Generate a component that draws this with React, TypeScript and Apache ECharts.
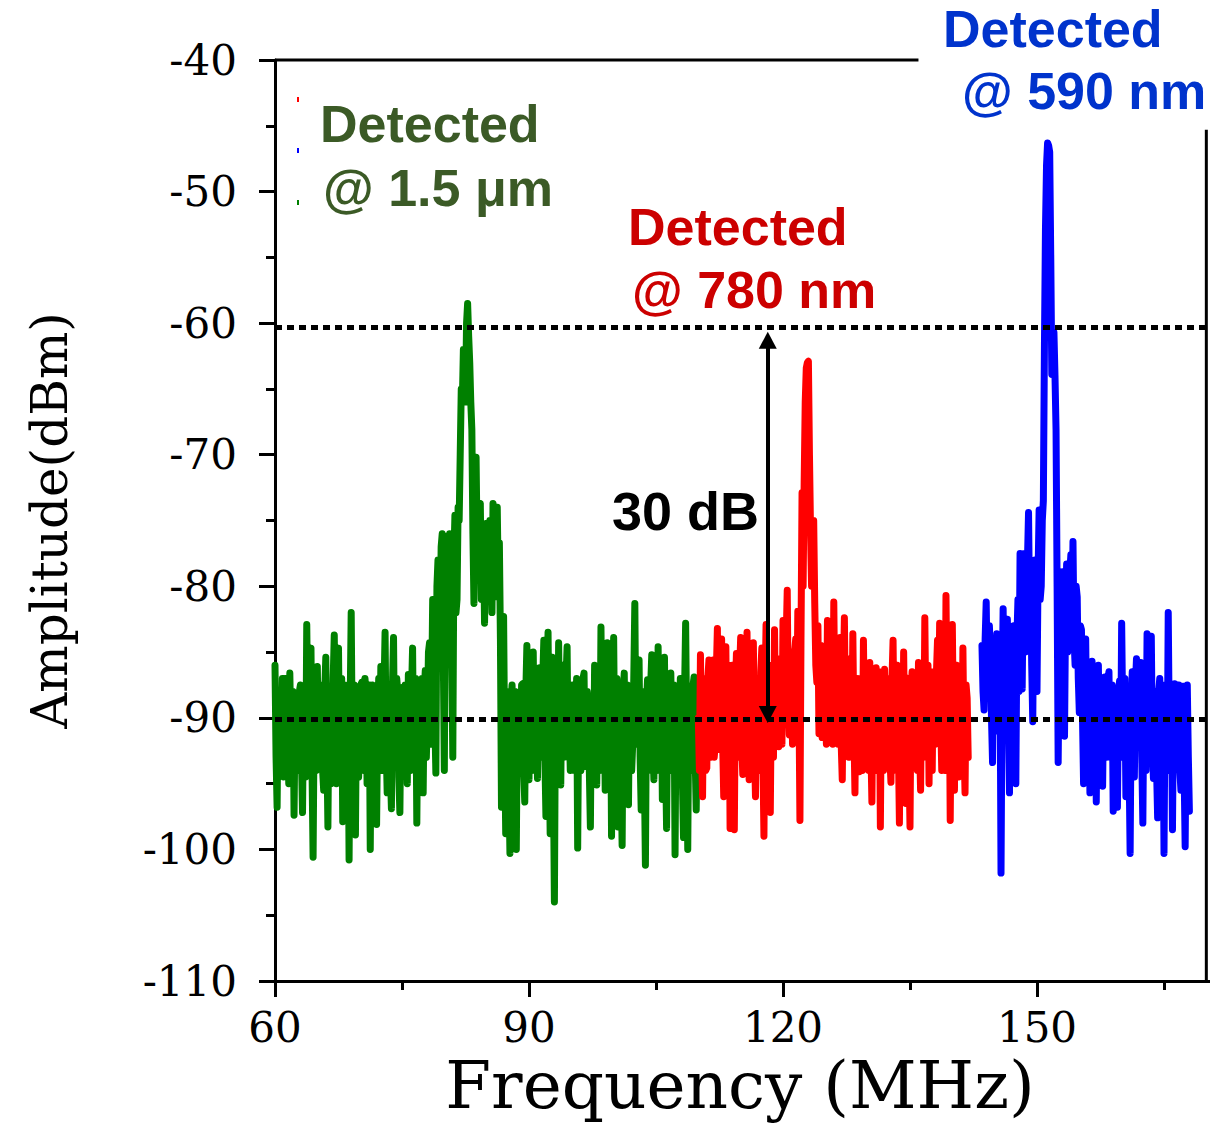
import React, { useEffect, useRef } from "react";
import * as echarts from "echarts";

// ---- data (dense spectrum, 0.125 MHz per sample) ----
const STEP_MHZ = 0.125;
const GREEN_START = 60;
const RED_START = 110;
const BLUE_START = 143.5;

const greenValues = [
  -86, -93, -96.8, -88.5, -88, -94, -92, -87, -94.5, -88, -87, -93.5, -90, -95, -86.6, -91, -93, -88, -97.4, -89.5,
  -89, -94, -92, -88, -87.5, -93, -97.2, -88.5, -89, -94.5, -82.9, -90, -93, -87, -84.7, -94, -100.6, -90, -88, -94,
  -86.1, -92.5, -93, -87.5, -88, -94, -95.5, -88, -85.4, -92, -98.3, -88.5, -89, -95, -92, -87, -83.7, -91, -95, -87.5,
  -84.7, -93, -91, -87, -97.9, -89, -87.5, -94, -93, -88, -100.8, -89, -82, -92, -94, -87.5, -98.9, -89, -88, -94.5,
  -92, -87.5, -87.3, -93.5, -94, -87, -88, -95, -91, -87.5, -100, -89, -87.5, -93, -95.5, -88, -98.1, -90, -87, -93,
  -86.1, -94, -93, -88, -83.5, -92, -95.7, -88, -89, -94, -96.9, -87.5, -83.9, -93, -92, -87, -88, -94.5, -97.2, -89,
  -87.7, -94, -93, -87.5, -89, -95, -86.7, -93, -94, -88, -84.7, -93.5, -92, -87, -98, -88.5, -87.5, -94, -91, -87,
  -95.7, -88, -86.4, -93, -90, -85, -84.3, -92, -88, -81, -82.9, -90, -94.2, -80, -78, -84, -83, -77, -76, -85,
  -94, -79, -76.2, -83, -82.8, -76, -77, -85, -93, -78, -74.6, -82, -81, -74, -75, -70, -65, -66, -62, -64,
  -66, -60, -58.5, -61, -63, -66, -68.1, -76, -81.3, -74, -70.2, -77, -79, -74, -73.7, -81, -80, -76, -82.8, -77,
  -75.2, -81, -80, -75, -77, -82, -73.7, -79, -80.8, -75, -74, -80, -76.7, -84, -96.8, -86, -82.3, -92, -98.8, -88,
  -88.4, -95, -100.3, -89, -87.5, -95, -94, -88, -100, -90, -89, -94, -93, -87.5, -87.4, -94, -96.4, -88, -84.5, -92,
  -94.7, -87.5, -89, -94, -85, -92.5, -92, -87, -94.6, -88, -86.2, -93, -91, -87, -84.1, -93, -97.5, -88, -83.5, -92,
  -98.8, -88, -85.4, -94, -104, -89, -88, -94, -84.3, -92, -95.1, -87.5, -86, -93, -92, -87, -84.6, -93, -90, -94,
  -93.2, -87.5, -88, -94, -91, -87, -99.9, -89, -87.5, -94, -92, -87, -86.6, -93, -93.7, -88, -89, -94, -98.3, -88.5,
  -90, -94, -86, -92, -95.1, -87.5, -89, -94, -83.1, -91, -92, -87, -95.5, -88, -84.3, -93, -90, -87, -99, -89,
  -83.9, -93, -92, -87, -98.3, -89, -88, -94, -99.7, -88, -86.6, -93, -91, -87.5, -96.6, -88, -88, -94, -92, -87,
  -81.3, -92, -91, -87, -85.6, -93, -97, -88, -89, -94, -101.2, -89, -87.1, -94, -93, -87.5, -85.2, -92, -94.7, -88,
  -88, -94, -84.6, -92, -91, -87, -96.2, -88, -85.4, -93, -98.4, -89, -89, -94, -86.6, -92, -93, -87.5, -100.4, -89,
  -87.7, -94, -92, -87, -89, -95, -99.1, -88, -82.8, -91, -100, -89, -88, -94, -94, -87.5, -86.9, -93, -97, -90,
];

const redValues = [
  -90, -94, -85.2, -92, -96, -87, -88, -94, -93.8, -87, -85.6, -93, -91, -86, -85.6, -93, -92, -86.5, -83.2, -92,
  -92.4, -86, -84, -92, -96, -87, -84.6, -93, -91, -86, -98.4, -88, -86, -93, -98.5, -88, -85.1, -92, -93, -86.5,
  -83.9, -92, -94.3, -87, -88, -93, -83.5, -91, -94.7, -87, -87, -93, -84.3, -92, -96, -87, -88, -93.5, -94, -86.5,
  -84.7, -93, -99, -88, -82.9, -91.5, -91, -86, -97.2, -88, -87, -93, -83.3, -91, -90, -85.5, -92.2, -86, -86, -92,
  -82.6, -90, -88, -84, -80.3, -89, -91.3, -85, -85, -92, -91.5, -85, -84, -90, -81.9, -88, -97.8, -84, -72.9, -80,
  -72.1, -66, -63.4, -63, -62.9, -70, -75.7, -80, -78.5, -75, -81.3, -86, -87.3, -83, -91.2, -86, -84.5, -91.5, -91, -85.5,
  -87, -92, -82.6, -90, -90, -85, -87, -92, -81.2, -89, -91.5, -86, -92, -86, -83.9, -92, -94.7, -87, -82.4, -90,
  -89, -85.5, -93, -87, -86, -92, -83.6, -91, -95.7, -87, -87, -93, -94.1, -87, -88, -94, -84.1, -91, -93, -86.5,
  -89, -94, -85.8, -92, -96.4, -87, -88, -94, -86.2, -92, -92, -86.5, -98.3, -88, -89, -94, -86.3, -92, -93, -87,
  -88, -93, -94.9, -87, -84.1, -92, -89, -94, -86, -92, -98, -88, -88, -94, -85, -92, -96.5, -87.5, -87, -93,
  -98.3, -88, -86.5, -93, -92, -87, -89, -94, -85.8, -92, -95.5, -87, -87, -93, -82.4, -90, -90, -86, -95, -87.5,
  -89, -94, -86.5, -92, -92, -86.5, -84.1, -91, -82.8, -90, -94, -87, -88, -94, -80.7, -89, -91, -86, -97.8, -88,
  -82.9, -91, -95.5, -87, -86, -93, -94.5, -87, -87, -93, -84.7, -92, -95.7, -87.5, -88.5, -93,
];

const blueValues = [
  -84.5, -88, -89.4, -84, -81.2, -87, -88, -83, -85, -90, -93.4, -85, -86, -91, -83.6, -88, -90, -85, -101.8, -88,
  -81.7, -90, -88, -83, -82.5, -90, -95.7, -85, -86, -91, -83, -89, -95, -84, -81, -88, -77.5, -85, -87.8, -80,
  -77.5, -85, -84, -78, -74.4, -82, -79.5, -86, -90.3, -80, -78, -85, -88, -79, -74.2, -81, -80, -75, -73.5, -62,
  -52.8, -48, -46.3, -46.5, -47, -55, -63.9, -62, -60.7, -64, -68.1, -80, -93.4, -85, -82.5, -80, -78.9, -86, -91.4, -82,
  -78.3, -85, -84, -79, -77.6, -83, -76.6, -84, -86, -80, -80.8, -87, -89.6, -83, -83.3, -90, -95, -86, -84, -91,
  -91, -86.5, -95.7, -88, -85.7, -93, -92, -87, -96.4, -88, -86, -93, -93, -87.5, -95.2, -88, -86.9, -93, -91, -87,
  -86.5, -93, -92, -87.5, -97.1, -89, -88, -94, -96.8, -88, -87.2, -93, -82.8, -90, -91, -87, -96, -88.5, -88, -93.5,
  -100.3, -89, -86.5, -93, -94.5, -87.5, -85.5, -92, -91, -87, -85.8, -93, -98, -88.5, -89, -94, -83.6, -91, -92, -87.5,
  -83.8, -92, -94.6, -88, -88, -94, -97.6, -88, -87, -93, -92, -87.5, -100.3, -89, -87.5, -94, -82, -91, -93, -88,
  -98.5, -89, -87.4, -93, -93, -87.5, -87.5, -94, -95.5, -88, -87.6, -94, -99.8, -89, -87.5, -93, -97.1,
];

const xTickLabels = [60, 90, 120, 150];
const yTickLabels = [-110, -100, -90, -80, -70, -60, -50, -40];
const referenceLevels = [-60.3, -90.1];
const arrowFrequency = 118.2;
const arrowHeadCenters = [-61.3, -89.75];
const frameTopEndFreq = 136;
const frameRightFreq = 170;
const frameRightStartLevel = -45.3;

const xTitle = "Frequency (MHz)";
const yTitle = "Amplitude(dBm)";

const annotations = [
  { text: "Detected", x: 320, y: 124, color: "#3b5a26", size: 52 },
  { text: "@ 1.5 \u03bcm", x: 323, y: 188, color: "#3b5a26", size: 52 },
  { text: "Detected", x: 628, y: 227, color: "#cc0000", size: 52 },
  { text: "@ 780 nm", x: 632, y: 290, color: "#cc0000", size: 52 },
  { text: "Detected", x: 943, y: 29, color: "#0033cc", size: 52 },
  { text: "@ 590 nm", x: 962, y: 91, color: "#0033cc", size: 52 },
  { text: "30 dB", x: 612, y: 511, color: "#000000", size: 54 },
];

const legendMarks = [
  { y: 97, color: "#ff0000" },
  { y: 148, color: "#0000ff" },
  { y: 200, color: "#008000" },
];

function toPoints(start: number, values: number[]) {
  return values.map((v, i) => [start + i * STEP_MHZ, v]);
}

export default function App() {
  const ref = useRef<HTMLDivElement>(null);

  useEffect(() => {
    if (!ref.current) return;
    const chart = echarts.init(ref.current, undefined, { renderer: "svg" });
    const black = "#000";
    const serif = "DejaVu Serif";

    const lineSeries = (name: string, start: number, values: number[], color: string) => ({
      name,
      type: "line",
      data: toPoints(start, values),
      showSymbol: false,
      symbol: "none",
      silent: true,
      z: 2,
      lineStyle: { color, width: 7, join: "round", cap: "round" },
    });

    chart.setOption({
      animation: false,
      backgroundColor: "#fff",
      textStyle: { fontFamily: serif },
      grid: { left: 275, right: 4, top: 60, bottom: 142, outerBoundsMode: "none", containLabel: false },
      xAxis: {
        type: "value",
        min: 60,
        max: 180,
        interval: 30,
        axisLine: { show: true, onZero: false, lineStyle: { color: black, width: 3 } },
        axisTick: { show: true, inside: false, length: 16, lineStyle: { color: black, width: 3 } },
        minorTick: { show: true, splitNumber: 2, length: 9, lineStyle: { color: black, width: 3 } },
        splitLine: { show: false },
        minorSplitLine: { show: false },
        axisLabel: {
          color: black,
          fontFamily: serif,
          fontSize: 42,
          margin: 25,
          formatter: (v: number) => (xTickLabels.includes(v) ? String(v) : ""),
        },
        name: xTitle,
        nameLocation: "middle",
        nameGap: 70,
        nameTextStyle: { color: black, fontFamily: serif, fontSize: 66, padding: [0, 86, 0, 0] },
      },
      yAxis: {
        type: "value",
        min: -110,
        max: -40,
        interval: 10,
        axisLine: { show: true, onZero: false, lineStyle: { color: black, width: 3 } },
        axisTick: { show: true, inside: false, length: 16, lineStyle: { color: black, width: 3 } },
        minorTick: { show: true, splitNumber: 2, length: 9, lineStyle: { color: black, width: 3 } },
        splitLine: { show: false },
        minorSplitLine: { show: false },
        axisLabel: {
          color: black,
          fontFamily: serif,
          fontSize: 42,
          margin: 38,
          formatter: (v: number) => (yTickLabels.includes(v) ? String(v) : ""),
        },
        name: yTitle,
        nameLocation: "middle",
        nameRotate: 90,
        nameGap: 200,
        nameTextStyle: { color: black, fontFamily: serif, fontSize: 50 },
      },
      series: [
        lineSeries("1.5 um", GREEN_START, greenValues, "#008000"),
        lineSeries("780 nm", RED_START, redValues, "#ff0000"),
        lineSeries("590 nm", BLUE_START, blueValues, "#0000ff"),
        {
          name: "reference levels",
          type: "line",
          data: [],
          z: 5,
          silent: true,
          markLine: {
            silent: true,
            animation: false,
            symbol: "none",
            label: { show: false },
            lineStyle: { color: black, width: 5, type: [7, 5] },
            data: referenceLevels.map((v) => ({ yAxis: v })),
          },
        },
        {
          name: "30 dB arrow",
          type: "line",
          data: [],
          z: 6,
          silent: true,
          markLine: {
            silent: true,
            animation: false,
            symbol: ["triangle", "triangle"],
            symbolSize: [18, 17],
            label: { show: false },
            itemStyle: { color: black },
            lineStyle: { color: black, width: 4, type: "solid" },
            data: [
              [
                { coord: [arrowFrequency, arrowHeadCenters[0]] },
                { coord: [arrowFrequency, arrowHeadCenters[1]] },
              ],
            ],
          },
        },
      ],
    });

    const p = (x: number, y: number) => chart.convertToPixel({ gridIndex: 0 }, [x, y]) as number[];
    const topLeft = p(60, -40);
    const topEnd = p(frameTopEndFreq, -40);
    const rightTop = p(frameRightFreq, frameRightStartLevel);
    const rightBottom = p(frameRightFreq, -110);

    const graphic: any[] = [
      {
        type: "line",
        z: 50,
        silent: true,
        shape: { x1: topLeft[0], y1: topLeft[1], x2: topEnd[0], y2: topEnd[1] },
        style: { stroke: black, lineWidth: 3 },
      },
      {
        type: "line",
        z: 50,
        silent: true,
        shape: { x1: rightTop[0], y1: rightTop[1], x2: rightBottom[0], y2: rightBottom[1] + 1.5 },
        style: { stroke: black, lineWidth: 3 },
      },
      ...legendMarks.map((m) => ({
        type: "rect",
        z: 50,
        silent: true,
        shape: { x: 297, y: m.y, width: 2, height: 5 },
        style: { fill: m.color },
      })),
      ...annotations.map((a) => ({
        type: "text",
        z: 60,
        silent: true,
        x: a.x,
        y: a.y,
        style: {
          text: a.text,
          fill: a.color,
          fontFamily: "Liberation Sans",
          fontWeight: "bold",
          fontSize: a.size,
          align: "left",
          verticalAlign: "middle",
          textAlign: "left",
          textVerticalAlign: "middle",
        },
      })),
    ];
    chart.setOption({ graphic });

    return () => chart.dispose();
  }, []);

  return (
    <div
      style={{
        position: "fixed",
        left: 0,
        top: 0,
        width: 1210,
        height: 1123,
        overflow: "hidden",
        background: "#fff",
      }}
    >
      <div ref={ref} style={{ width: 1295, height: 1123 }} />
    </div>
  );
}
